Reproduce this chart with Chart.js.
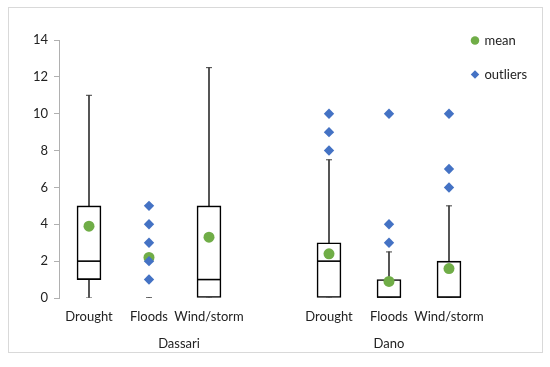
<!DOCTYPE html>
<html>
<head>
<meta charset="utf-8">
<script src="https://cdn.jsdelivr.net/npm/chart.js@4.4.1/dist/chart.umd.min.js"></script>
<style>
  html, body { margin: 0; padding: 0; background: #fff; }
  #frame { position: absolute; left: 8px; top: 7px; width: 533px; height: 344px; border: 1px solid #d9d9d9; }
  #chart { position: absolute; left: 0; top: 0; }
</style>
</head>
<body>
<div id="frame"></div>
<canvas id="chart" width="550" height="367"></canvas>
<script>
// one slot per box, the empty slot separates the two sites
var categories = ["Drought", "Floods", "Wind/storm", "", "Drought", "Floods", "Wind/storm"];
var groups = ["Dassari", "Dano"];
var groupFirst = [0, 4];
var groupLast = [3, 6];

var mins = [0, 0, 0, null, 0, 0, 0];
var q1 = [1, 0, 0, null, 0, 0, 0];
var medians = [2, 0, 1, null, 2, 0, 0];
var q3 = [5, 0, 5, null, 3, 1, 2];
var maxs = [11, 0, 12.5, null, 7.5, 2.5, 5];
var means = [3.9, 2.2, 3.3, null, 2.4, 0.9, 1.6];
var outliers = [[], [1, 2, 3, 4, 5], [], [], [8, 9, 10], [3, 4, 10], [6, 7, 10]];

var yMin = 0, yMax = 14, yStep = 2;

var meanPts = [], outPts = [], medPts = [], capPts = [];
var boxes = [], upper = [], lower = [];
for (var i = 0; i < categories.length; i++) {
  if (means[i] !== null) meanPts.push({ x: i, y: means[i] });
  outliers[i].forEach(function (v) { outPts.push({ x: i, y: v }); });
  if (q3[i] === null) {
    boxes.push(null); upper.push(null); lower.push(null);
    continue;
  }
  if (q3[i] > q1[i]) medPts.push({ x: i, y: medians[i] });
  capPts.push({ x: i, y: mins[i] }, { x: i, y: maxs[i] });
  boxes.push([q1[i], q3[i]]);
  upper.push([q3[i], maxs[i]]);
  lower.push([mins[i], q1[i]]);
}
var groupCenters = groups.map(function (g, k) { return (groupFirst[k] + groupLast[k]) / 2; });

// put the legend inside the top right corner of the plot, like Excel does
var legendInPlot = {
  id: "legendInPlot",
  afterLayout: function (chart) {
    var lg = chart.legend;
    lg.left = chart.chartArea.right - 28;
    lg.right = chart.width;
    lg.top -= 27;
  }
};

Chart.defaults.font.family = "Lato";
Chart.defaults.font.size = 13;
Chart.defaults.color = "#222";

var ctx = document.getElementById("chart");
var myChart = new Chart(ctx, {
  type: "bar",
  data: {
    labels: categories,
    datasets: [
      {
        type: "line", label: "mean", data: meanPts, xAxisID: "x2", showLine: false, order: 1,
        pointStyle: "circle", pointRadius: 5.5, pointBorderWidth: 0,
        pointBackgroundColor: "#70AD47", pointBorderColor: "#70AD47", backgroundColor: "#70AD47", borderColor: "#70AD47"
      },
      {
        type: "line", label: "outliers", data: outPts, xAxisID: "x2", showLine: false, order: 0,
        pointStyle: "rectRot", pointRadius: 5.2, pointBorderWidth: 0,
        pointBackgroundColor: "#4472C4", pointBorderColor: "#4472C4", backgroundColor: "#4472C4", borderColor: "#4472C4"
      },
      {
        type: "line", label: "median", data: medPts, xAxisID: "x2", showLine: false, order: 2,
        pointStyle: "line", pointRadius: 12, pointBorderWidth: 1.6, pointBorderColor: "#000"
      },
      {
        type: "line", label: "caps", data: capPts, xAxisID: "x2", showLine: false, order: 2,
        pointStyle: "line", pointRadius: 3, pointBorderWidth: 1, pointBorderColor: "#404040"
      },
      {
        label: "box", data: boxes, grouped: false, order: 3, barThickness: 24,
        backgroundColor: "#fff", borderColor: "#000", borderWidth: 1.6, borderSkipped: false
      },
      {
        label: "upper", data: upper, grouped: false, order: 4, barThickness: 1,
        backgroundColor: "#333", borderWidth: 0
      },
      {
        label: "lower", data: lower, grouped: false, order: 4, barThickness: 1,
        backgroundColor: "#333", borderWidth: 0
      }
    ]
  },
  options: {
    responsive: false,
    animation: false,
    events: [],
    layout: { padding: { left: 33, right: 8, top: 40, bottom: 17 } },
    plugins: {
      tooltip: { enabled: false },
      legend: {
        position: "right",
        align: "start",
        maxWidth: 63,
        labels: {
          usePointStyle: true, boxWidth: 6, boxHeight: 6, padding: 21, color: "#222",
          filter: function (item) { return item.datasetIndex < 2; },
          sort: function (a, b) { return a.datasetIndex - b.datasetIndex; }
        }
      }
    },
    scales: {
      x: {
        grid: { display: false, drawTicks: false },
        border: { display: false },
        afterFit: function (axis) { axis.height = 26; },
        ticks: { padding: 11, autoSkip: false, maxRotation: 0 }
      },
      x2: {
        type: "linear",
        position: "bottom",
        weight: 1,
        offset: false,
        min: -0.5,
        max: categories.length - 0.5,
        grid: { display: false, drawTicks: false, offset: false },
        border: { display: false },
        afterBuildTicks: function (axis) {
          axis.ticks = groupCenters.map(function (v) { return { value: v }; });
        },
        afterFit: function (axis) { axis.height = 26; },
        ticks: {
          padding: 12, autoSkip: false, maxRotation: 0,
          callback: function (v, idx) { return groups[idx]; }
        }
      },
      y: {
        min: yMin,
        max: yMax,
        afterFit: function (axis) { axis.width = 26; },
        ticks: { stepSize: yStep, padding: 6 },
        grid: { drawOnChartArea: false, drawTicks: true, tickLength: 5, color: "#b0b0b0" },
        border: { display: true, color: "#b0b0b0" }
      }
    }
  },
  plugins: [legendInPlot]
});
</script>
</body>
</html>
